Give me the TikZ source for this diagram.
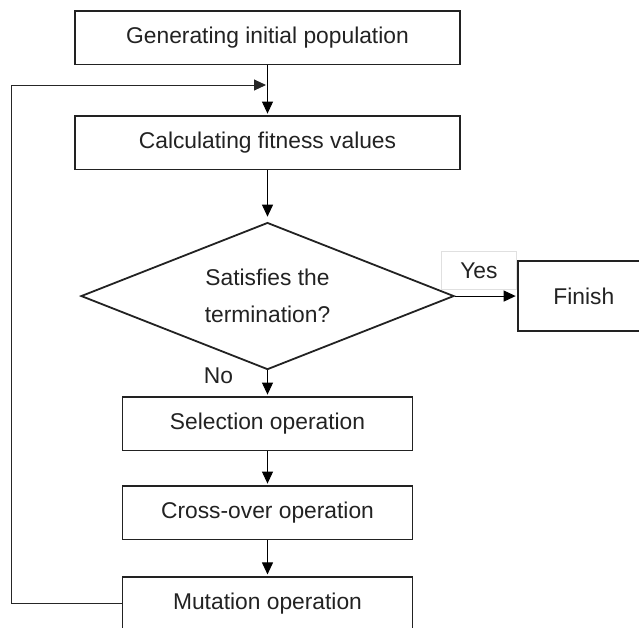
\documentclass[tikz,border=0pt]{standalone}
\usepackage{fontspec}
\setmainfont{Liberation Sans}
\usepackage{tikz}
\usetikzlibrary{arrows.meta,shapes.geometric}
\usetikzlibrary{positioning}
\definecolor{inkgray}{HTML}{222222}
\tikzset{
    opbox/.style={
           rectangle,
           draw=inkgray, line width=1.8pt,
           minimum height=53.5pt,
           inner sep=2pt,
           text centered,
           text=inkgray,
           font=\fontsize{22.8}{27}\selectfont,
           },
    decision/.style={
           diamond,
           aspect=2.53,
           draw=inkgray, line width=1.8pt,
           minimum width=373pt,
           minimum height=147pt,
           inner sep=0pt,
           align=center,
           text=inkgray,
           font=\fontsize{22.8}{36.5}\selectfont,
           },
    note/.style={
           rectangle,
           draw=black!12, line width=1pt,
           minimum width=75.5pt,
           minimum height=38pt,
           inner sep=0pt,
           text=inkgray,
           font=\fontsize{22.8}{27}\selectfont,
           },
    tag/.style={
           inner sep=0pt,
           text=inkgray,
           font=\fontsize{22.8}{27}\selectfont,
           },
}

\begin{document}
\begin{tikzpicture}[->,>={Triangle[length=12pt,width=11pt]},line width=1pt,shorten >=1.5pt]
        \useasboundingbox (-267.5pt,37.75pt) rectangle (371.5pt,-589.25pt);

        % INITIAL POPULATION
        \node[opbox,
            minimum width=385pt
            ] (GA_INIT)
        {Generating initial population};

        % FITNESS
        \node[opbox,
            minimum width=385pt,
            below of=GA_INIT,
            node distance=105pt,
            anchor=center] (GA_FIT)
        {Calculating fitness values};

        % TERMINATION TEST
        \node[decision,
            below of=GA_FIT,
            node distance=153.3pt,
            anchor=center] (GA_TEST)
        {Satisfies the\\termination?};

        % FINISH (runs past the right edge)
        \node[opbox,
            minimum width=131.4pt,
            minimum height=69.5pt,
            right of=GA_TEST,
            node distance=316.3pt,
            anchor=center] (GA_FINISH)
        {Finish};

        % yes tag sits on the arrow into Finish
        \node[note,
            above left=6pt and 0pt of GA_FINISH.west] (GA_YES)
        {Yes};

        % SELECTION
        \node[opbox,
            minimum width=290pt,
            below of=GA_TEST,
            node distance=127.7pt,
            anchor=center] (GA_SEL)
        {Selection operation};

        % CROSS-OVER
        \node[opbox,
            minimum width=290pt,
            below of=GA_SEL,
            node distance=89pt,
            anchor=center] (GA_CROSS)
        {Cross-over operation};

        % MUTATION
        \node[opbox,
            minimum width=290pt,
            below of=GA_CROSS,
            node distance=90.8pt,
            anchor=center] (GA_MUT)
        {Mutation operation};

        % points of the loop back
        \coordinate[below of=GA_INIT, node distance=47.25pt] (GA_BACK);
        \coordinate[left of=GA_MUT, node distance=256pt] (GA_CORNER);

        % draw the paths
        \path
        (GA_INIT)   edge                    (GA_FIT)
        (GA_FIT)    edge [shorten >=5pt]    (GA_TEST)
        (GA_TEST)   edge                    (GA_FINISH)
        (GA_TEST)   edge node[tag,pos=0.2,left=34pt]{No} (GA_SEL)
        (GA_SEL)    edge                    (GA_CROSS)
        (GA_CROSS)  edge                    (GA_MUT)
        ;

        % loop back to the fitness step
        \draw[draw=black!85] (GA_MUT.west) -- (GA_CORNER) |- (GA_BACK);

\end{tikzpicture}
\end{document}
